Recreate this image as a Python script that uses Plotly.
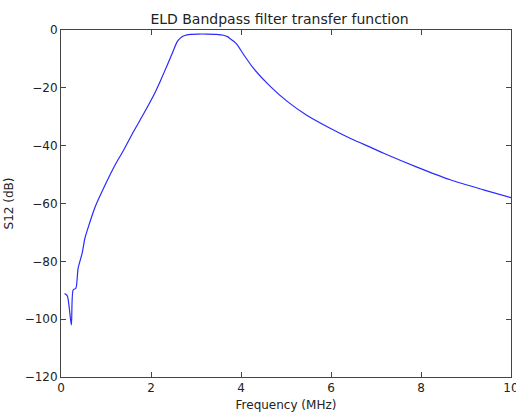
import plotly.graph_objects as go

freq_mhz = [0.08, 0.14, 0.23, 0.27, 0.33, 0.38, 0.47, 0.53, 0.61, 0.76, 0.98,
            1.19, 1.39, 1.61, 1.84, 2.06, 2.22, 2.36, 2.48, 2.58, 2.65, 2.72, 2.80,
            2.87, 3.05, 3.24, 3.45, 3.61, 3.70, 3.76, 3.84, 3.91, 4.05, 4.28,
            4.65, 5.02, 5.47, 5.98, 6.47, 6.87, 7.17, 7.91, 8.65, 9.39, 10.0]
s12_db = [-91.1, -91.9, -102.0, -89.9, -89.3, -82.4, -77.2, -72.1, -68.0, -61.1, -53.6,
          -47.0, -41.6, -35.2, -28.9, -22.6, -17.2, -12.2, -7.8, -4.1, -2.8, -2.1, -1.7,
          -1.5, -1.4, -1.4, -1.5, -1.8, -2.3, -3.0, -3.9, -5.0, -8.3, -13.3,
          -19.5, -24.6, -29.6, -34.0, -37.8, -40.5, -42.6, -47.4, -51.8, -55.3, -58.0]

x_ticks = [0, 2, 4, 6, 8, 10]
y_ticks = [0, -20, -40, -60, -80, -100, -120]

fig = go.Figure()
fig.add_trace(go.Scatter(x=freq_mhz, y=s12_db, mode="lines",
                         line=dict(color="#2a2aff", width=1.2, shape="spline", smoothing=0.7),
                         showlegend=False))

axis_common = dict(showgrid=False, zeroline=False, showline=True, linecolor="#444",
                   linewidth=1, mirror="ticks", ticks="inside", ticklen=5,
                   tickcolor="#444", tickfont=dict(size=12, color="#222"),
                   ticklabeloverflow="allow", automargin=False)

fig.update_layout(
    width=516, height=415,
    margin=dict(l=61, r=5, t=30, b=38),
    paper_bgcolor="white", plot_bgcolor="white",
    font=dict(family="DejaVu Sans", color="#222"),
    title=dict(text="ELD Bandpass filter transfer function", x=0.5417, xanchor="center",
               y=0.955, yanchor="middle", font=dict(size=14, color="#222")),
    xaxis=dict(range=[0, 10], tickvals=x_ticks,
               title=dict(text="Frequency (MHz)", font=dict(size=12), standoff=6),
               **axis_common),
    yaxis=dict(range=[-120, 0], tickvals=y_ticks,
               title=dict(text="S12 (dB)", font=dict(size=12), standoff=8),
               **axis_common),
)

fig.write_html("out.html")
